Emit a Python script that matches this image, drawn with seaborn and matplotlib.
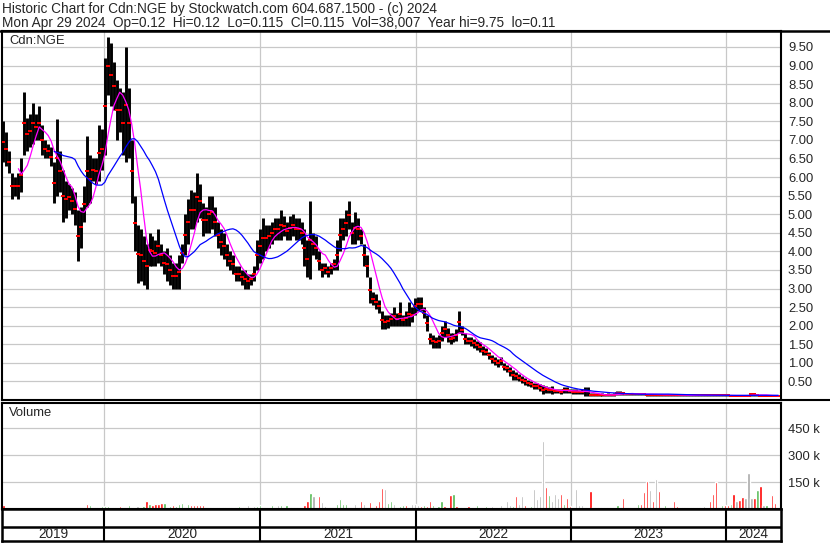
import numpy as np
import pandas as pd
import seaborn as sns
import matplotlib.pyplot as plt
from matplotlib.lines import Line2D

sns.set_style('white')
plt.rcParams['font.family'] = ['Liberation Sans', 'DejaVu Sans']

# weekly high / low, Apr 29 2019 .. Apr 29 2024
hi = [7.5, 7.2, 6.7, 6.1, 6.0, 6.1, 6.5, 8.3, 7.6, 7.7,
      8.0, 7.7, 7.9, 7.4, 7.0, 6.9, 6.8, 6.4, 7.55, 6.7,
      6.2, 5.9, 5.8, 5.7, 5.6, 5.1, 5.2, 5.75, 7.1, 6.6,
      6.5, 6.5, 7.4, 7.3, 9.2, 9.77, 9.6, 9.1, 8.6, 8.4,
      8.3, 9.5, 8.4, 7.0, 5.5, 4.7, 4.6, 4.4, 4.2, 4.5,
      4.4, 4.3, 4.6, 4.2, 4.0, 4.1, 3.9, 3.7, 3.7, 3.9,
      4.2, 5.0, 5.4, 5.65, 5.6, 6.1, 5.8, 5.3, 5.2, 5.5,
      5.5, 5.2, 4.8, 4.6, 4.5, 4.2, 4.0, 3.9, 3.6, 3.6,
      3.5, 3.5, 3.4, 3.4, 3.6, 4.3, 4.6, 4.9, 4.7, 4.7,
      4.8, 4.9, 4.9, 5.1, 4.95, 4.8, 4.95, 5.0, 4.9, 4.9,
      4.8, 4.6, 4.3, 5.35, 4.5, 4.4, 4.0, 3.7, 3.7, 3.6,
      3.7, 3.8, 4.3, 4.9, 4.9, 5.1, 5.35, 4.8, 5.05, 4.9,
      4.6, 4.2, 3.9, 3.3, 2.9, 2.85, 2.7, 2.4, 2.3, 2.3,
      2.35, 2.5, 2.35, 2.65, 2.3, 2.4, 2.65, 2.5, 2.75, 2.77,
      2.77, 2.5, 2.3, 1.8, 1.75, 1.7, 1.75, 2.0, 2.13, 1.95,
      1.8, 1.8, 1.9, 2.4, 2.0, 1.8, 1.7, 1.7, 1.65, 1.6,
      1.55, 1.45, 1.4, 1.3, 1.2, 1.15, 1.1, 1.15, 1.0, 0.95,
      0.9, 0.8, 0.75, 0.7, 0.65, 0.6, 0.55, 0.5, 0.45, 0.45,
      0.42, 0.4, 0.38, 0.35, 0.38, 0.3, 0.3, 0.3, 0.35, 0.35,
      0.3, 0.3, 0.3, 0.28, 0.3, 0.35, 0.35, 0.18, 0.18, 0.18,
      0.17, 0.18, 0.17, 0.18, 0.17, 0.18, 0.25, 0.25, 0.22, 0.2,
      0.2, 0.2, 0.19, 0.2, 0.2, 0.2, 0.17, 0.17, 0.17, 0.17,
      0.17, 0.17, 0.16, 0.17, 0.17, 0.17, 0.15, 0.15, 0.15, 0.15,
      0.15, 0.15, 0.15, 0.15, 0.15, 0.15, 0.15, 0.15, 0.15, 0.15,
      0.15, 0.15, 0.15, 0.15, 0.14, 0.14, 0.14, 0.14, 0.14, 0.14,
      0.14, 0.2, 0.18, 0.16, 0.13, 0.13, 0.13, 0.13, 0.13, 0.13, 0.12]
lo = [6.4, 6.3, 6.1, 5.4, 5.5, 5.4, 5.6, 6.6, 6.7, 6.8,
      6.9, 7.0, 7.0, 6.6, 6.5, 6.5, 6.3, 5.3, 5.5, 5.6,
      4.8, 4.9, 5.1, 5.0, 4.7, 3.75, 4.1, 4.8, 5.2, 5.3,
      5.9, 5.8, 5.9, 6.2, 6.6, 8.2, 7.9, 7.8, 7.0, 7.2,
      6.6, 6.4, 6.5, 5.3, 4.0, 3.15, 3.2, 3.1, 3.0, 3.6,
      3.6, 3.6, 3.7, 3.6, 3.4, 3.2, 3.1, 3.0, 3.0, 3.0,
      3.7, 3.9, 4.2, 4.6, 4.6, 4.8, 4.9, 4.4, 4.5, 4.5,
      4.6, 4.4, 4.1, 3.9, 3.8, 3.6, 3.5, 3.4, 3.2, 3.2,
      3.1, 3.0, 3.0, 3.1, 3.2, 3.5, 3.7, 3.8, 4.0, 4.1,
      4.2, 4.3, 4.3, 4.3, 4.4, 4.3, 4.3, 4.4, 4.3, 4.3,
      4.2, 3.6, 3.3, 3.25, 3.9, 3.8, 3.5, 3.3, 3.4, 3.3,
      3.4, 3.5, 3.5, 4.0, 4.3, 4.4, 4.6, 4.2, 4.2, 4.3,
      4.2, 3.6, 3.3, 2.6, 2.55, 2.45, 2.35, 1.9, 1.9, 1.95,
      2.0, 2.0, 2.0, 2.0, 2.0, 2.0, 2.0, 2.1, 2.3, 2.4,
      2.4, 2.2, 1.85, 1.5, 1.4, 1.4, 1.4, 1.6, 1.7, 1.55,
      1.5, 1.55, 1.6, 1.8, 1.75, 1.5, 1.5, 1.45, 1.4, 1.35,
      1.3, 1.2, 1.2, 1.1, 1.0, 0.95, 0.9, 0.95, 0.8, 0.75,
      0.65, 0.55, 0.55, 0.5, 0.45, 0.4, 0.38, 0.35, 0.3, 0.3,
      0.25, 0.15, 0.2, 0.2, 0.15, 0.2, 0.18, 0.15, 0.2, 0.2,
      0.2, 0.15, 0.15, 0.15, 0.15, 0.12, 0.12, 0.1, 0.1, 0.1,
      0.1, 0.1, 0.1, 0.1, 0.1, 0.1, 0.13, 0.13, 0.13, 0.13,
      0.13, 0.13, 0.13, 0.13, 0.13, 0.13, 0.12, 0.12, 0.12, 0.12,
      0.12, 0.12, 0.12, 0.12, 0.12, 0.12, 0.1, 0.1, 0.1, 0.1,
      0.1, 0.1, 0.1, 0.1, 0.1, 0.1, 0.1, 0.1, 0.1, 0.1,
      0.1, 0.1, 0.1, 0.1, 0.1, 0.1, 0.1, 0.1, 0.1, 0.1,
      0.1, 0.12, 0.12, 0.12, 0.11, 0.11, 0.11, 0.11, 0.11, 0.11, 0.11]

# weekly peak volume in thousands; r = down, g = up, k = unchanged
vol_k = [21, 6, 5, 4, 5, 4, 6, 5, 4, 6,
         5, 6, 4, 5, 6, 4, 5, 6, 5, 4,
         4, 5, 6, 5, 6, 8, 12, 8, 30, 21,
         8, 10, 6, 16, 16, 16, 8, 10, 8, 16,
         10, 12, 21, 10, 12, 16, 12, 14, 42, 30,
         21, 30, 30, 33, 35, 12, 14, 21, 14, 30,
         35, 12, 26, 21, 21, 21, 21, 21, 12, 10,
         10, 8, 10, 8, 10, 8, 10, 8, 10, 17,
         10, 8, 21, 10, 16, 16, 25, 12, 10, 8,
         21, 10, 21, 21, 10, 21, 12, 10, 8, 10,
         10, 25, 47, 90, 70, 12, 74, 39, 16, 10,
         12, 10, 30, 58, 26, 26, 12, 10, 26, 12,
         42, 26, 12, 39, 12, 25, 42, 116, 113, 33,
         42, 26, 12, 14, 21, 21, 12, 30, 30, 21,
         16, 21, 14, 42, 24, 12, 14, 42, 14, 12,
         77, 82, 14, 12, 10, 12, 14, 10, 12, 24,
         12, 10, 14, 12, 16, 12, 10, 21, 12, 47,
         21, 14, 73, 30, 73, 24, 12, 14, 111, 56,
         73, 377, 125, 77, 47, 82, 64, 82, 30, 64,
         14, 12, 111, 21, 21, 12, 10, 99, 12, 10,
         8, 12, 8, 10, 8, 12, 24, 10, 64, 8,
         9, 8, 10, 30, 30, 96, 157, 103, 47, 165,
         99, 10, 21, 8, 10, 47, 16, 8, 10, 12,
         8, 10, 8, 12, 10, 16, 8, 47, 82, 151,
         10, 21, 21, 21, 30, 82, 47, 52, 68, 64,
         200, 64, 64, 108, 130, 21, 24, 10, 77, 35, 8]
vol_col = ("rrgrgrgrrg" "rgrrggrrgr" "rrgrrgrgrg" "rgrgggrgrr" "grgrgkrgrg"
           "rrrrgrgrgg" "grgrrrrrgr" "grgrgrgrgg" "rgkrkggrgr" "grkggggrgr"
           "rrrgkgrkkg" "rgggggrrkr" "rkgrgrrrkg" "gkrggrgkkk" "rgrrgrggrg"
           "rgrgrgrgrg" "grgrkrgkgk" "kgrkkrkgkk" "kkrgkkkrgr" "rgkkkrgrgr"
           "rgrgrggrrg" "rgrgrrrkrk" "rrgrgrrgrk" "rgrgrkgrrr" "rgrrgrkrrk"
           "kkrgrkggrrr")

year_labels = ['2019', '2020', '2021', '2022', '2023', '2024']
year_starts = [34.2, 86.6, 139.0, 191.0, 243.0]   # Jan 1, in chart weeks
x_end = 261.4
price_ticks = [0.5, 1.0, 1.5, 2.0, 2.5, 3.0, 3.5, 4.0, 4.5, 5.0,
               5.5, 6.0, 6.5, 7.0, 7.5, 8.0, 8.5, 9.0, 9.5]
vol_ticks = [150, 300, 450]

df = pd.DataFrame({'hi': hi, 'lo': lo, 'vol': vol_k, 'c': list(vol_col)})
df['x'] = np.arange(len(df)) + 0.5
df['mid'] = (df['hi'] + df['lo']) / 2
df['ma_fast'] = df['mid'].rolling(6).mean()
df['ma_slow'] = df['mid'].rolling(18).mean()

W, H = 830, 543
fig = plt.figure(figsize=(W / 100, H / 100), dpi=100)


def box(x0, y0, x1, y1):
    return fig.add_axes([x0 / W, 1 - y1 / H, (x1 - x0) / W, (y1 - y0) / H])


def hline(y, x0, x1, lw=1.5):
    fig.add_artist(Line2D([x0 / W, x1 / W], [1 - y / H, 1 - y / H],
                          color='black', lw=lw, transform=fig.transFigure))


grid_c = '#c8c8c8'
fs = 9.4

# price panel
ax = box(2, 31, 781, 400)
for y in price_ticks:
    ax.axhline(y, color=grid_c, lw=0.9, zorder=0)
for x in year_starts:
    ax.axvline(x, color=grid_c, lw=0.9, zorder=0)
ax.vlines(df['x'], df['lo'], df['hi'], color='black', lw=2.1, zorder=2)
ax.plot(df['x'], df['mid'], ls='none', marker='_', ms=2.6, mew=1.4,
        color='#ff0000', zorder=3)
fast = df.dropna(subset=['ma_fast'])
slow = df.dropna(subset=['ma_slow'])
sns.lineplot(data=fast, x='x', y='ma_fast', ax=ax, color='#ff00ff', lw=0.9, zorder=4)
sns.lineplot(data=slow, x='x', y='ma_slow', ax=ax, color='#0000ff', lw=0.9, zorder=5)
ax.set_xlim(0, x_end)
ax.set_ylim(0, 9.93)
ax.set_xticks([])
ax.set_yticks(price_ticks)
ax.set_yticklabels([f'{v:.2f}' for v in price_ticks], fontsize=fs)
ax.yaxis.tick_right()
ax.tick_params(axis='y', length=0, pad=5)
ax.set_xlabel('')
ax.set_ylabel('')
for s in ax.spines.values():
    s.set_color('black')
    s.set_linewidth(1.5)

# volume panel
av = box(2, 403, 781, 509)
for y in vol_ticks:
    av.axhline(y, color=grid_c, lw=0.9, zorder=0)
for x in year_starts:
    av.axvline(x, color=grid_c, lw=0.9, zorder=0)
cmap = {'r': '#ff0000', 'g': '#4cb84c', 'k': '#a8a8a8'}
av.bar(df['x'], df['vol'], width=0.75, color=[cmap[c] for c in df['c']], zorder=2)
av.set_xlim(0, x_end)
av.set_ylim(0, 590)
av.set_xticks([])
av.set_yticks(vol_ticks)
av.set_yticklabels([f'{v} k' for v in vol_ticks], fontsize=fs)
av.yaxis.tick_right()
av.tick_params(axis='y', length=0, pad=5)
for s in av.spines.values():
    s.set_color('black')
    s.set_linewidth(1.5)

# year strip
ay = box(2, 509, 781, 541)
ay.set_xlim(0, x_end)
ay.set_ylim(0, 1)
ay.set_xticks([])
ay.set_yticks([])
ay.axhline((541 - 527) / 32, color='black', lw=1.8)
for x in year_starts:
    ay.axvline(x, color='black', lw=1.5)
edges = [0] + year_starts + [x_end]
for i, lab in enumerate(year_labels):
    ay.text((edges[i] + edges[i + 1]) / 2, (541 - 534.5) / 32, lab,
            ha='center', va='center', fontsize=9.8)
for s in ay.spines.values():
    s.set_color('black')
    s.set_linewidth(1.8)

# frame pieces and header
hline(31, 0, W, lw=1.8)
hline(399.5, 781, W, lw=1.5)
fig.text(2 / W, 1 - 12.5 / H,
         'Historic Chart for Cdn:NGE by Stockwatch.com 604.687.1500 - (c) 2024',
         va='baseline', fontsize=9.8)
fig.text(2 / W, 1 - 27 / H,
         'Mon Apr 29 2024  Op=0.12  Hi=0.12  Lo=0.115  Cl=0.115  Vol=38,007  Year hi=9.75  lo=0.11',
         va='baseline', fontsize=9.8)
fig.text(9 / W, 1 - 41 / H, 'Cdn:NGE', va='center', fontsize=fs)
fig.text(9 / W, 1 - 413.5 / H, 'Volume', va='center', fontsize=fs)

fig.savefig('out.png', dpi=100)
